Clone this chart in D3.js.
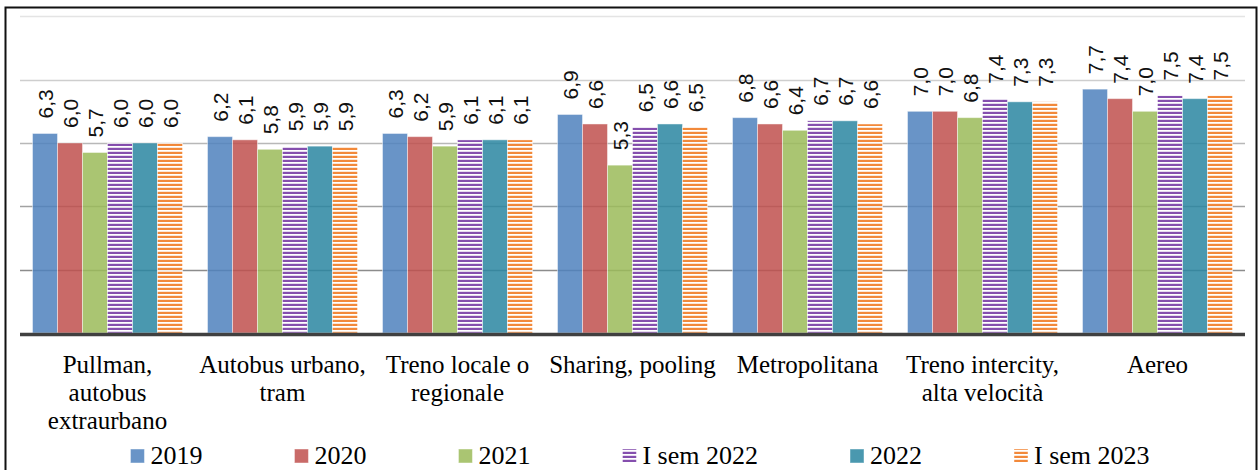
<!DOCTYPE html>
<html lang="it">
<head>
    <meta charset="UTF-8">
    <style>
        body { margin: 0; background: #fff; }
        .cat-label { font-family: "Liberation Serif", serif; font-size: 25px; fill: #000; text-anchor: middle; }
        .legend-label { font-family: "Liberation Serif", serif; font-size: 26px; fill: #000; }
        .val-label { font-family: "Liberation Sans", sans-serif; font-size: 21px; fill: #111; }
    </style>
    <script src="https://cdn.jsdelivr.net/npm/d3@7"></script>
</head>
<body>
    <div id="my_dataviz"></div>

    <script>
        // categories (tick labels, already broken into lines as in the picture)
        var categories = ["Pullman", "Autobus", "Treno locale", "Sharing", "Metropolitana", "Treno intercity", "Aereo"];
        var categoryLines = [
            ["Pullman,", "autobus", "extraurbano"],
            ["Autobus urbano,", "tram"],
            ["Treno locale o", "regionale"],
            ["Sharing, pooling"],
            ["Metropolitana"],
            ["Treno intercity,", "alta velocità"],
            ["Aereo"]
        ];
        var seriesNames = ["2019", "2020", "2021", "I sem 2022", "2022", "I sem 2023"];

        // one value per category, per series
        var v2019    = [6.3, 6.2, 6.3, 6.9, 6.8, 7.0, 7.7];
        var v2020    = [6.0, 6.1, 6.2, 6.6, 6.6, 7.0, 7.4];
        var v2021    = [5.7, 5.8, 5.9, 5.3, 6.4, 6.8, 7.0];
        var vSem2022 = [6.0, 5.9, 6.1, 6.5, 6.7, 7.4, 7.5];
        var v2022    = [6.0, 5.9, 6.1, 6.6, 6.7, 7.3, 7.4];
        var vSem2023 = [6.0, 5.9, 6.1, 6.5, 6.6, 7.3, 7.5];
        var seriesValues = [v2019, v2020, v2021, vSem2022, v2022, vSem2023];

        var gridTicks = [0, 2, 4, 6, 8, 10];

        var W = 1259, H = 470;
        var plot = { left: 20, right: 1245, top: 16.3, bottom: 333 };

        var svg = d3.select("#my_dataviz")
            .append("svg")
            .attr("width", W)
            .attr("height", H);

        // stripe patterns for the two "I sem" series
        var defs = svg.append("defs");
        function stripes(id, color) {
            var p = defs.append("pattern")
                .attr("id", id)
                .attr("patternUnits", "userSpaceOnUse")
                .attr("width", 8)
                .attr("height", 4);
            p.append("rect").attr("width", 8).attr("height", 4).attr("fill", "#fff");
            p.append("rect").attr("y", 0).attr("width", 8).attr("height", 2).attr("fill", color);
            p.append("rect").attr("y", 3).attr("width", 8).attr("height", 0.6).attr("fill", color).attr("opacity", 0.35);
        }
        stripes("purpleStripes", "#7030A0");
        stripes("orangeStripes", "#F07418");

        var fills = ["#4F81BD", "#C0504D", "#9BBB59", "url(#purpleStripes)", "#2A86A1", "url(#orangeStripes)"];

        var x0 = d3.scaleBand()
            .domain(categories)
            .range([plot.left, plot.right])
            .paddingInner(1 / 7)
            .paddingOuter(1 / 14);

        var x1 = d3.scaleBand()
            .domain(seriesNames)
            .range([0, x0.bandwidth()]);

        var y = d3.scaleLinear()
            .domain([0, 10])
            .range([plot.bottom, plot.top]);

        // outer frame
        svg.append("rect")
            .attr("x", 5.5)
            .attr("y", 7.5)
            .attr("width", 1251)
            .attr("height", 480)
            .attr("fill", "none")
            .attr("stroke", "#111")
            .attr("stroke-width", 2);

        // gridlines, lighter towards the top like the original
        var gridColor = d3.scaleLinear().domain([2, 10]).range(["#8c8c8c", "#e4e4e4"]);
        svg.append("g")
            .selectAll("line")
            .data(gridTicks.filter(function (t) { return t > 0; }))
            .enter()
            .append("line")
            .attr("x1", plot.left)
            .attr("x2", plot.right)
            .attr("y1", function (d) { return Math.round(y(d)) + 0.5; })
            .attr("y2", function (d) { return Math.round(y(d)) + 0.5; })
            .attr("stroke", function (d) { return gridColor(d); })
            .attr("stroke-width", 1.5);

        // bars
        var groups = svg.append("g")
            .selectAll("g")
            .data(categories)
            .enter()
            .append("g")
            .attr("transform", function (d) { return "translate(" + x0(d) + ",0)"; });

        var bars = groups.selectAll("rect")
            .data(function (c, ci) {
                return seriesNames.map(function (s, si) {
                    return { series: s, si: si, value: seriesValues[si][ci] };
                });
            })
            .enter()
            .append("rect")
            .attr("x", function (d) { return x1(d.series); })
            .attr("y", function (d) { return y(d.value); })
            .attr("width", x1.bandwidth())
            .attr("height", function (d) { return y(0) - y(d.value); })
            .attr("fill", function (d) { return fills[d.si]; })
            .attr("fill-opacity", 0.85)
            .attr("stroke", "#fff")
            .attr("stroke-opacity", 0.45)
            .attr("stroke-width", 1);

        // value labels, rotated
        groups.selectAll("text")
            .data(function (c, ci) {
                return seriesNames.map(function (s, si) {
                    return { series: s, value: seriesValues[si][ci] };
                });
            })
            .enter()
            .append("text")
            .attr("class", "val-label")
            .attr("transform", function (d) {
                return "translate(" + (x1(d.series) + x1.bandwidth() / 2) + "," + (y(d.value) - 15) + ")rotate(-90)";
            })
            .attr("dy", "0.36em")
            .text(function (d) { return d3.format(".1f")(d.value).replace(".", ","); });

        // baseline
        svg.append("line")
            .attr("x1", plot.left)
            .attr("x2", plot.right)
            .attr("y1", y(0) + 1.5)
            .attr("y2", y(0) + 1.5)
            .attr("stroke", "#404040")
            .attr("stroke-width", 3.5);

        // category labels
        svg.append("g")
            .selectAll("text")
            .data(categories)
            .enter()
            .append("text")
            .attr("class", "cat-label")
            .attr("x", function (d) { return x0(d) + x0.bandwidth() / 2; })
            .attr("y", 373)
            .each(function (d, i) {
                var t = d3.select(this);
                categoryLines[i].forEach(function (line, li) {
                    t.append("tspan")
                        .attr("x", x0(d) + x0.bandwidth() / 2)
                        .attr("dy", li === 0 ? 0 : 28)
                        .text(line);
                });
            });

        // legend
        var legend = svg.append("g");
        var items = legend.selectAll("g")
            .data(seriesNames)
            .enter()
            .append("g");
        items.append("rect")
            .attr("width", 14)
            .attr("height", 14)
            .attr("y", 449)
            .attr("fill", function (d, i) { return fills[i]; })
            .attr("fill-opacity", 0.85)
            .attr("stroke", "#fff")
            .attr("stroke-opacity", 0.45);
        items.append("text")
            .attr("class", "legend-label")
            .attr("x", 20)
            .attr("y", 464)
            .text(function (d) { return d; });

        var gap = 92, pos = 0, offsets = [];
        items.each(function () {
            offsets.push(pos);
            pos += 20 + this.querySelector("text").getComputedTextLength() + gap;
        });
        var total = pos - gap;
        var startX = 640 - total / 2;
        items.attr("transform", function (d, i) { return "translate(" + (startX + offsets[i]) + ",0)"; });
    </script>
</body>
</html>
